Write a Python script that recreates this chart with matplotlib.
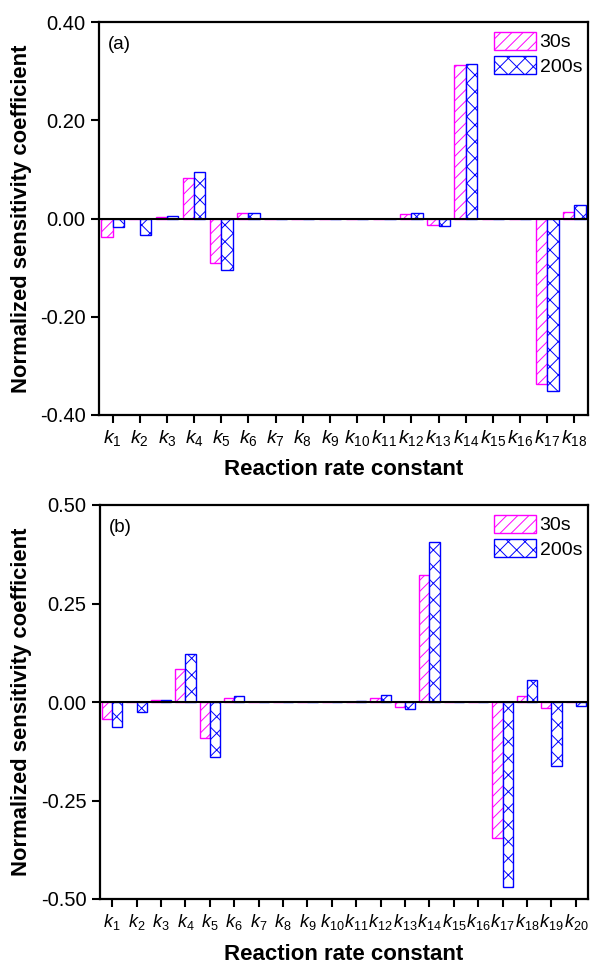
import matplotlib
matplotlib.use("Agg")
import matplotlib.pyplot as plt
import numpy as np

plt.rcParams['font.family'] = ['Liberation Sans', 'DejaVu Sans']
plt.rcParams['mathtext.fontset'] = 'custom'
plt.rcParams['mathtext.rm'] = 'Liberation Sans'
plt.rcParams['mathtext.it'] = 'Liberation Sans:italic'
plt.rcParams['hatch.linewidth'] = 0.7

# Panel (a) data
labels_a = [f"$k_{{{i}}}$" for i in range(1, 19)]
a_30s = [-0.038, -0.001, 0.003, 0.083, -0.090, 0.011, 0.0, 0.0, 0.0, 0.0,
         -0.002, 0.010, -0.013, 0.312, 0.0, 0.0, -0.336, 0.014]
a_200s = [-0.017, -0.034, 0.005, 0.095, -0.105, 0.012, 0.0, -0.002, 0.0, 0.0,
          0.0, 0.011, -0.016, 0.315, 0.0, 0.0, -0.351, 0.027]

# Panel (b) data
labels_b = [f"$k_{{{i}}}$" for i in range(1, 21)]
b_30s = [-0.043, 0.0, 0.005, 0.084, -0.092, 0.011, 0.0, 0.0, 0.0, 0.0,
         0.0, 0.011, -0.012, 0.322, 0.0, 0.0, -0.345, 0.016, -0.014, 0.0]
b_200s = [-0.063, -0.026, 0.005, 0.122, -0.139, 0.016, 0.0, 0.0, 0.0, 0.0,
          0.002, 0.018, -0.019, 0.406, 0.0, 0.0, -0.470, 0.057, -0.163, -0.011]

series_names = ["30s", "200s"]
pink = "#FF00FF"
blue = "#0000FF"

fig = plt.figure(figsize=(5.9, 9.66), dpi=100)
ax1 = fig.add_axes([99/590, 1-415/966, (588-99)/590, (415-22)/966])
ax2 = fig.add_axes([100/590, 1-899/966, (588-100)/590, (899-505)/966])

def draw(ax, labels, s30, s200, ylim, yticks, tag, xsize):
    x = np.arange(1, len(labels) + 1)
    w = 0.42
    ax.bar(x - w/2, s30, width=w, facecolor='white', edgecolor=pink,
           hatch='///', linewidth=1.0, label=series_names[0])
    ax.bar(x + w/2, s200, width=w, facecolor='white', edgecolor=blue,
           hatch='xx', linewidth=1.0, label=series_names[1])
    ax.axhline(0, color='black', linewidth=1.5, zorder=3)
    ax.set_xlim(0.5, len(labels) + 0.5)
    ax.set_ylim(*ylim)
    ax.set_yticks(yticks)
    ax.set_yticklabels([f"{v:.2f}" for v in yticks])
    ax.set_xticks(x)
    ax.set_xticklabels(labels)
    ax.tick_params(axis='both', direction='out', length=5.8, width=1.5,
                   top=False, right=False)
    ax.tick_params(axis='y', labelsize=14.5, pad=4)
    ax.tick_params(axis='x', labelsize=xsize, pad=3.5)
    for s in ax.spines.values():
        s.set_linewidth(1.6)
    ax.set_ylabel("Normalized sensitivity coefficient", fontsize=15.8,
                  fontweight='bold')
    ax.set_xlabel("Reaction rate constant", fontsize=16, fontweight='bold',
                  labelpad=9 - (xsize - 13) * 0.7)
    ax.text(0.019, 0.965, tag, transform=ax.transAxes, fontsize=13.5,
            ha='left', va='top')
    ax.legend(loc='upper right', bbox_to_anchor=(1.0, 1 - 4/393),
              frameon=False, fontsize=14,
              handlelength=2.16, handleheight=1.03, handletextpad=0.2,
              labelspacing=0.25, borderaxespad=0.0, borderpad=0.3)

draw(ax1, labels_a, a_30s, a_200s, (-0.4, 0.4), [-0.4, -0.2, 0.0, 0.2, 0.4], "(a)", 14)
draw(ax2, labels_b, b_30s, b_200s, (-0.5, 0.5), [-0.5, -0.25, 0.0, 0.25, 0.5], "(b)", 13)
ax1.yaxis.set_label_coords(-0.137, 0.5)
ax2.yaxis.set_label_coords(-0.139, 0.5)

fig.savefig("out.png", dpi=100)
